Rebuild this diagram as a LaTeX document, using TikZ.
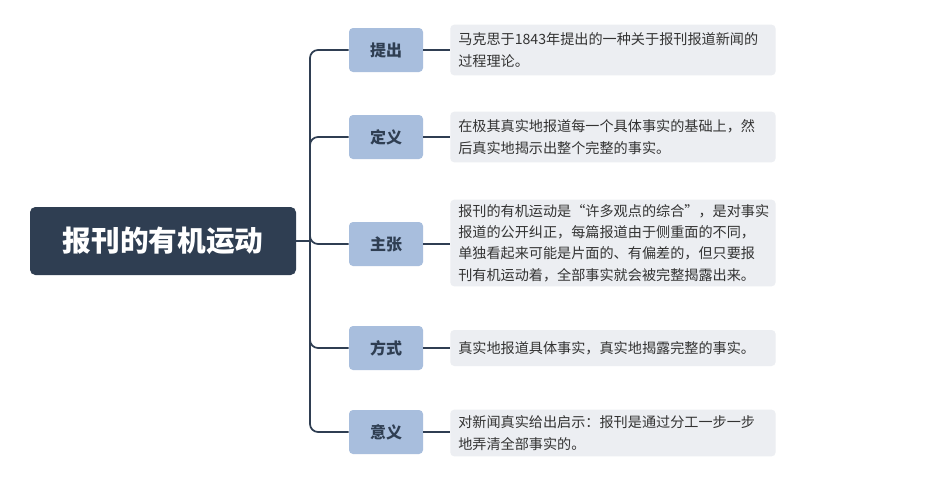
\documentclass[tikz,border=0pt]{standalone}
\usepackage{fontspec}
\setmainfont{Noto Sans CJK SC}
\begin{document}
\begin{tikzpicture}[x=0.75pt,y=-0.75pt,
  rootbox/.style={fill=root,rounded corners=4pt,text=white,font=\fontsize{21.5}{24}\selectfont\bfseries,minimum width=199.5pt,minimum height=51pt},
  branch/.style={fill=br,rounded corners=3pt,text=root,font=\fontsize{12}{14}\selectfont\bfseries,minimum width=55.5pt,minimum height=33pt},
  leaf/.style={fill=lf,rounded corners=3pt,text=black!80,font=\fontsize{10.6}{16}\selectfont,align=left,anchor=west,minimum width=244pt,text width=232pt,inner xsep=6pt},
  conn/.style={draw=root,line width=1.3pt,rounded corners=6pt}]
\definecolor{root}{HTML}{2F3E52}
\definecolor{br}{HTML}{A8BEDD}
\definecolor{lf}{HTML}{ECEEF2}
\fill[white] (0,0) rectangle (937,482);
\node[rootbox] (r) at (163,241) {报刊的有机运动};
\node[branch] (b1) at (386,50) {提出};
\node[branch] (b2) at (386,137) {定义};
\node[branch] (b3) at (386,244) {主张};
\node[branch] (b4) at (386,348) {方式};
\node[branch] (b5) at (386,432) {意义};
\node[leaf,minimum height=38pt] (l1) at (450,50) {马克思于1843年提出的一种关于报刊报道新闻的\\过程理论。};
\node[leaf,minimum height=38pt] (l2) at (450,137) {在极其真实地报道每一个具体事实的基础上，然\\后真实地揭示出整个完整的事实。};
\node[leaf,minimum height=65pt] (l3) at (450,243) {报刊的有机运动是“许多观点的综合”，是对事实\\报道的公开纠正，每篇报道由于侧重面的不同，\\单独看起来可能是片面的、有偏差的，但只要报\\刊有机运动着，全部事实就会被完整揭露出来。};
\node[leaf,minimum height=27pt] (l4) at (450,348) {真实地报道具体事实，真实地揭露完整的事实。};
\node[leaf,minimum height=35pt] (l5) at (450,433) {对新闻真实给出启示：报刊是通过分工一步一步\\地弄清全部事实的。};
\coordinate (sp) at (310,241);
\draw[conn] (r.east) -- (sp);
\draw[conn] (b1.west) -| (sp) |- (b5.west);
\draw[conn] (sp) |- (b2.west);
\draw[conn] (sp) |- (b3.west);
\draw[conn] (sp) |- (b4.west);
\foreach \i in {1,...,5}{\draw[root,line width=1.1pt] (b\i.east) -- (l\i.west |- b\i.east);}
\end{tikzpicture}
\end{document}
